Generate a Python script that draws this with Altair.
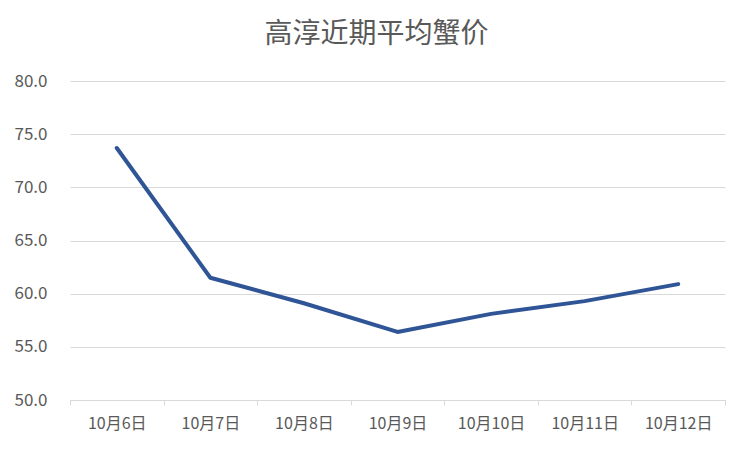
import altair as alt
import pandas as pd

dates = ["10月6日", "10月7日", "10月8日", "10月9日", "10月10日", "10月11日", "10月12日"]
prices = [73.7, 61.5, 59.1, 56.4, 58.1, 59.3, 60.9]

df = pd.DataFrame({"date": dates, "price": prices})

FONT = "Noto Sans CJK SC"
GRAY = "#595959"

chart = alt.Chart(df).mark_line(color="#2F5597", strokeWidth=4, strokeCap="round", strokeJoin="round").encode(
    x=alt.X("date:N", sort=dates, bandPosition=0.5,
            scale=alt.Scale(type="band", paddingInner=0, paddingOuter=0),
            axis=alt.Axis(title=None, labelAngle=0, tickBand="extent", domainColor="#D9D9D9",
                          tickColor="#D9D9D9", tickSize=5, labelColor=GRAY, labelFontSize=16,
                          labelFont=FONT, labelPadding=10, grid=False)),
    y=alt.Y("price:Q", scale=alt.Scale(domain=[50, 80], nice=False),
            axis=alt.Axis(title=None, values=[50, 55, 60, 65, 70, 75, 80], format=".1f",
                          domain=False, ticks=False, labelPadding=23, gridColor="#D9D9D9",
                          labelColor=GRAY, labelFontSize=17, labelFont=FONT)),
).properties(
    width=655, height=319,
    title=alt.TitleParams("高淳近期平均蟹价", font=FONT, fontSize=28, fontWeight="normal",
                          color=GRAY, anchor="middle", offset=23, dx=-21),
    autosize=alt.AutoSizeParams(type="none"),
    padding={"left": 62, "top": 73, "right": 19, "bottom": 44},
).configure_view(stroke=None)

chart.save("out.html", embed_options={"renderer": "svg", "actions": False})
